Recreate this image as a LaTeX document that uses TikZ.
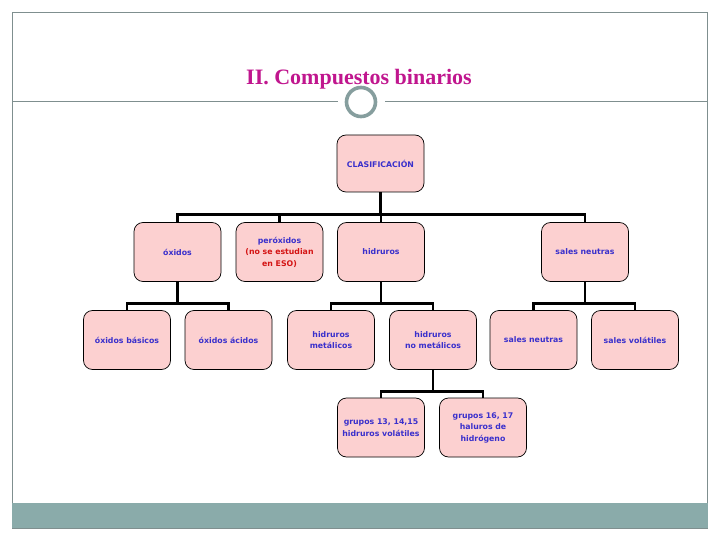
\documentclass[tikz,border=0pt]{standalone}
\usepackage{fontspec}
\usepackage{tikz}
\usetikzlibrary{positioning}
\newfontfamily\titlefont{Liberation Serif}
\newfontfamily\boxfont{DejaVu Sans}
\definecolor{slidegray}{RGB}{127,143,143}
\definecolor{bandteal}{RGB}{138,171,170}
\definecolor{ringteal}{RGB}{134,158,158}
\definecolor{titlemagenta}{RGB}{192,22,142}
\definecolor{boxpink}{RGB}{252,208,208}
\definecolor{textblue}{RGB}{58,48,204}
\definecolor{textred}{RGB}{212,20,20}

\begin{document}
\begin{tikzpicture}[
    x=1pt, y=-1pt,
    every node/.style={align=center},
    classbox/.style={rectangle, rounded corners=9pt, draw=black, line width=0.7pt, fill=boxpink, minimum width=87pt, minimum height=59pt, inner sep=1pt, font=\boxfont\bfseries\fontsize{7.8}{11.5}\selectfont, text=textblue},
    link/.style={draw=black, line width=2.8pt},
    frame/.style={draw=slidegray, line width=0.9pt}
]
\useasboundingbox (0,0) rectangle (720,540);

% Slide frame and bottom band
\draw[frame] (12.5,503) -- (12.5,12.5) -- (707.5,12.5) -- (707.5,503);
\fill[bandteal] (12,503) rectangle (708,528);
\draw[slidegray, line width=0.6pt] (12,528) -- (708,528);

% Title
\node[font=\titlefont\bfseries\fontsize{22}{26}\selectfont, text=titlemagenta] (title) at (359,79) {II. Compuestos binarios};
\draw[frame] (12.5,101) -- (338,101);
\draw[frame] (385,101) -- (707.5,101);
\draw[draw=ringteal, line width=3.6pt, fill=white] (361,102) circle (14.5);

% Level 1
\node[classbox, minimum height=57pt] (clasif) at (380.5,163.5) {CLASIFICACIÓN};

% Level 2
\node[classbox] (oxidos) at (177.5,252) {óxidos};
\node[classbox] (peroxidos) at (279.5,252) {peróxidos\\\textcolor{textred}{(no se estudian}\\\textcolor{textred}{en ESO)}};
\node[classbox] (hidruros) at (381,252) {hidruros};
\node[classbox] (sales) at (585,252) {sales neutras};

% Level 3
\node[classbox] (basicos) at (127,340) {óxidos básicos};
\node[classbox] (acidos) at (228.5,340) {óxidos ácidos};
\node[classbox] (metalicos) at (331,340) {hidruros\\metálicos};
\node[classbox] (nometalicos) at (433,340) {hidruros\\no metálicos};
\node[classbox] (neutras) at (533.5,340) {sales neutras};
\node[classbox] (volatiles) at (635,340) {sales volátiles};

% Level 4
\node[classbox] (grupos1) at (381,427.5) {grupos 13, 14,15\\hidruros volátiles};
\node[classbox] (grupos2) at (483,427.5) {grupos 16, 17\\haluros de\\hidrógeno};

% Tree connectors
\draw[link] (clasif.south) -- ++(0,22) -| (oxidos.north);
\draw[link] (clasif.south) -- ++(0,22) -| (peroxidos.north);
\draw[link] (clasif.south) -- ++(0,22) -| (hidruros.north);
\draw[link] (clasif.south) -- ++(0,22) -| (sales.north);

\draw[link] (oxidos.south) -- ++(0,22) -| (basicos.north);
\draw[link] (oxidos.south) -- ++(0,22) -| (acidos.north);
\draw[link] (hidruros.south) -- ++(0,22) -| (metalicos.north);
\draw[link] (hidruros.south) -- ++(0,22) -| (nometalicos.north);
\draw[link] (sales.south) -- ++(0,22) -| (neutras.north);
\draw[link] (sales.south) -- ++(0,22) -| (volatiles.north);

\draw[link] (nometalicos.south) -- ++(0,22) -| (grupos1.north);
\draw[link] (nometalicos.south) -- ++(0,22) -| (grupos2.north);

\end{tikzpicture}
\end{document}
